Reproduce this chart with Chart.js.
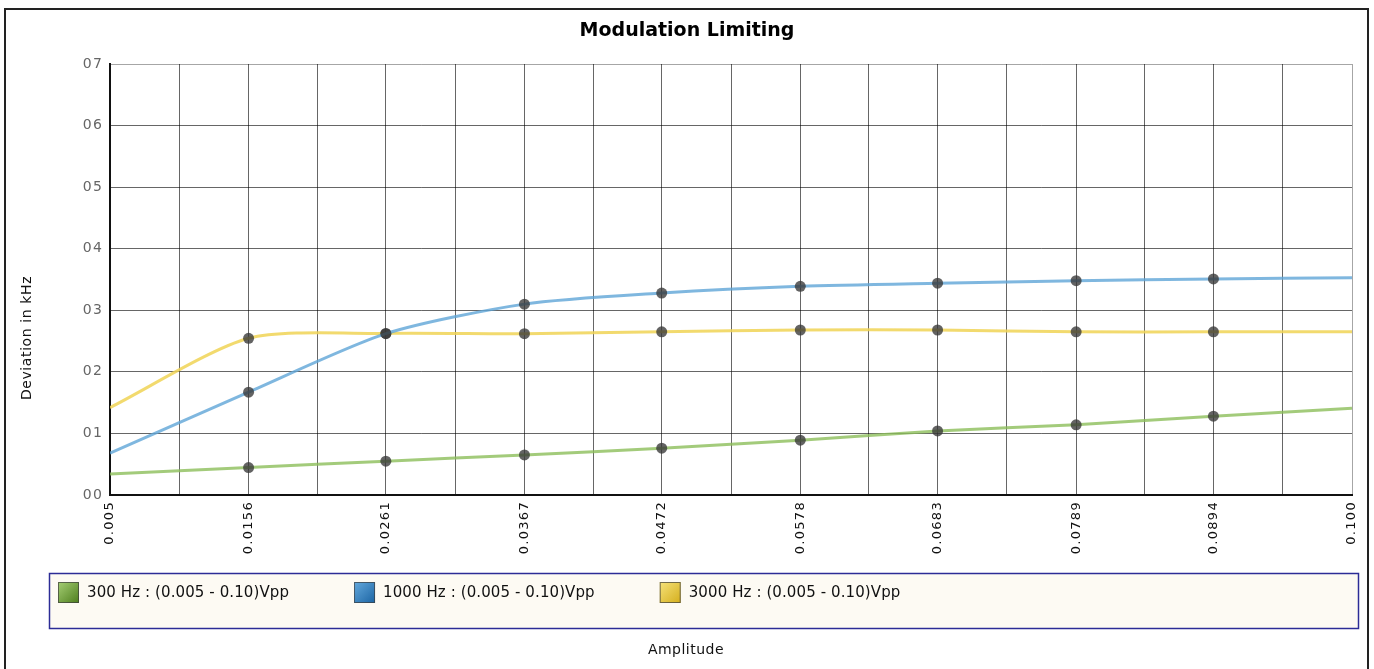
<!DOCTYPE html>
<html>
<head>
<meta charset="utf-8">
<script src="https://cdn.jsdelivr.net/npm/chart.js@4.4.1/dist/chart.umd.min.js"></script>
<style>
  html, body { margin: 0; padding: 0; background: #ffffff; }
  canvas { display: block; }
</style>
</head>
<body>
<canvas id="c" width="1374" height="669"></canvas>
<script>
// ---- data ----
const amplitudes   = [0.005, 0.0156, 0.0261, 0.0367, 0.0472, 0.0578, 0.0683, 0.0789, 0.0894, 0.100];
const xTickLabels  = ['0.005', '0.0156', '0.0261', '0.0367', '0.0472', '0.0578', '0.0683', '0.0789', '0.0894', '0.100'];
const yTickLabels  = ['00', '01', '02', '03', '04', '05', '06', '07'];
const hz300        = [0.034, 0.0445, 0.055, 0.065, 0.076, 0.089, 0.104, 0.114, 0.128, 0.141];
const hz1000       = [0.068, 0.167, 0.262, 0.310, 0.328, 0.339, 0.344, 0.348, 0.351, 0.353];
const hz3000       = [0.142, 0.2545, 0.2625, 0.262, 0.265, 0.268, 0.268, 0.265, 0.265, 0.265];
const seriesLabels = ['300 Hz : (0.005 - 0.10)Vpp', '1000 Hz : (0.005 - 0.10)Vpp', '3000 Hz : (0.005 - 0.10)Vpp'];
const chartTitle   = 'Modulation Limiting';
const xAxisTitle   = 'Amplitude';
const yAxisTitle   = 'Deviation in kHz';

const lineColors   = ['rgba(140,190,90,0.8)', 'rgba(95,165,215,0.8)', 'rgba(240,212,85,0.85)'];
const swatchStops  = [['#a6cf75', '#4d7d1c'], ['#64a9dd', '#1b64a3'], ['#f6e27a', '#d4ae1c']];

const toPoints = arr => arr.map((v, i) => ({ x: amplitudes[i], y: v }));
const markerRadius = amplitudes.map((_, i) => (i === 0 || i === amplitudes.length - 1) ? 0 : 5.5);

// grid positions: every amplitude and the midpoints between them
const gridValues = [];
amplitudes.forEach((a, i) => {
  gridValues.push(a);
  if (i < amplitudes.length - 1) gridValues.push((a + amplitudes[i + 1]) / 2);
});

const FONT = '"DejaVu Sans", sans-serif';

const decorPlugin = {
  id: 'decor',
  beforeDraw(chart) {
    const ctx = chart.ctx;
    ctx.save();
    ctx.fillStyle = '#ffffff';
    ctx.fillRect(0, 0, chart.width, chart.height);
    ctx.restore();
  },
  afterLayout(chart) {
    ['x', 'y'].forEach(id => {
      const s = chart.scales[id];
      if (s && !s._lsWrapped) {
        const orig = s.drawLabels.bind(s);
        s.drawLabels = function (area) {
          const c = this.ctx;
          const prev = c.letterSpacing;
          c.letterSpacing = id === 'x' ? '1.3px' : '1.2px';
          orig(area);
          c.letterSpacing = prev;
        };
        s._lsWrapped = true;
      }
    });
  },
  afterDraw(chart) {
    const ctx = chart.ctx;
    ctx.save();
    // outer frame
    ctx.strokeStyle = '#222';
    ctx.lineWidth = 2;
    ctx.strokeRect(5, 9, 1363, 700);

    // axis titles
    ctx.fillStyle = '#111';
    ctx.font = '14px ' + FONT;
    ctx.letterSpacing = '0.5px';
    ctx.textAlign = 'center';
    ctx.textBaseline = 'middle';
    ctx.fillText(xAxisTitle, 686, 650);
    ctx.save();
    ctx.translate(27, 338);
    ctx.rotate(-Math.PI / 2);
    ctx.letterSpacing = '0.6px';
    ctx.fillText(yAxisTitle, 0, 0);
    ctx.restore();

    // legend box
    ctx.fillStyle = '#fdfaf3';
    ctx.fillRect(49, 573, 1309, 55);
    ctx.strokeStyle = '#2c2c96';
    ctx.lineWidth = 1.5;
    ctx.strokeRect(49.5, 573.5, 1309, 55);

    ctx.font = '15px ' + FONT;
    ctx.letterSpacing = '0.1px';
    ctx.textAlign = 'left';
    ctx.textBaseline = 'middle';
    let x = 58;
    chart.data.datasets.forEach((ds, i) => {
      const g = ctx.createLinearGradient(x, 582, x + 21, 603);
      g.addColorStop(0, swatchStops[i][0]);
      g.addColorStop(1, swatchStops[i][1]);
      ctx.fillStyle = g;
      ctx.fillRect(x, 582, 21, 21);
      ctx.strokeStyle = 'rgba(60,60,60,0.7)';
      ctx.lineWidth = 1;
      ctx.strokeRect(x + 0.5, 582.5, 20, 20);
      ctx.fillStyle = '#111';
      ctx.fillText(ds.label, x + 29, 593);
      const w = ctx.measureText(ds.label).width;
      x = x + 29 + w + 65;
    });
    ctx.restore();
  }
};

new Chart(document.getElementById('c'), {
  type: 'line',
  data: {
    datasets: [hz300, hz1000, hz3000].map((arr, i) => ({
      label: seriesLabels[i],
      data: toPoints(arr),
      borderColor: lineColors[i],
      backgroundColor: lineColors[i],
      borderWidth: 3,
      tension: 0.25,
      pointRadius: markerRadius,
      pointHoverRadius: markerRadius,
      pointBackgroundColor: 'rgba(55,55,55,0.78)',
      pointBorderWidth: 0,
      fill: false
    }))
  },
  options: {
    responsive: false,
    animation: false,
    devicePixelRatio: 1,
    layout: { padding: { left: 22, right: 22, top: 0, bottom: 0 } },
    plugins: {
      legend: { display: false },
      tooltip: { enabled: false },
      title: {
        display: true,
        text: chartTitle,
        color: '#000',
        font: { family: FONT, size: 19, weight: 'bold' },
        padding: { top: 19.6, bottom: 21.6 }
      }
    },
    scales: {
      x: {
        type: 'linear',
        min: amplitudes[0],
        max: amplitudes[amplitudes.length - 1],
        afterBuildTicks(scale) {
          scale.ticks = gridValues.map(v => ({ value: v }));
        },
        afterFit(scale) { scale.height = 174; },
        ticks: {
          autoSkip: false,
          minRotation: 90,
          maxRotation: 90,
          padding: 6,
          color: '#111',
          font: { family: FONT, size: 13 },
          callback: (value, index) => (index % 2 === 0 ? xTickLabels[index / 2] : '')
        },
        grid: {
          drawTicks: false,
          color: ctx => (ctx.index === gridValues.length - 1 ? 'rgba(0,0,0,0.35)' : 'rgba(0,0,0,0.6)'),
          lineWidth: 1
        },
        border: { display: true, color: '#111', width: 2 }
      },
      y: {
        type: 'linear',
        min: 0,
        max: 0.7,
        afterFit(scale) { scale.width = 88; },
        ticks: {
          stepSize: 0.1,
          padding: 7,
          color: '#666',
          font: { family: FONT, size: 14 },
          callback: (value, index) => yTickLabels[index]
        },
        grid: {
          drawTicks: false,
          color: ctx => (ctx.index === yTickLabels.length - 1 ? 'rgba(0,0,0,0.35)' : 'rgba(0,0,0,0.6)'),
          lineWidth: 1
        },
        border: { display: true, color: '#111', width: 2 }
      }
    }
  },
  plugins: [decorPlugin]
});
</script>
</body>
</html>
